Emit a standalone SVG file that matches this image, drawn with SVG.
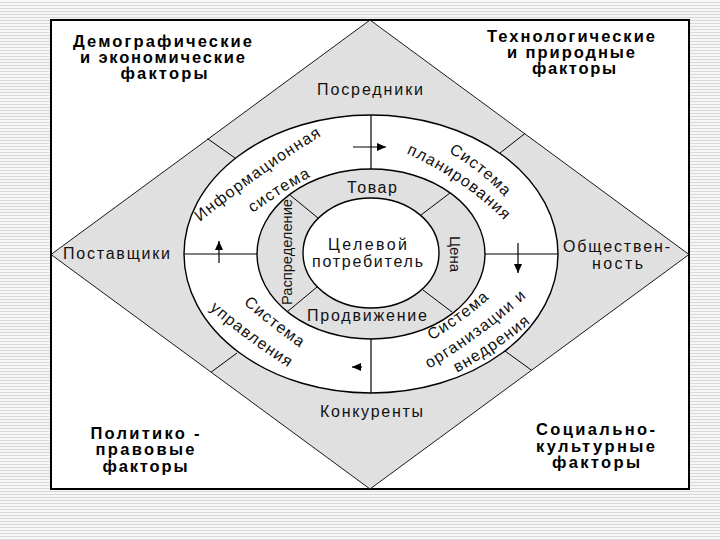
<svg xmlns="http://www.w3.org/2000/svg" width="720" height="540" viewBox="0 0 720 540">
<defs>
<style>
.lbl{font-family:"Liberation Sans",Arial,sans-serif;font-size:16px;fill:#111;}
.sm{font-size:15px;}
.fac{font-family:"Liberation Sans",Arial,sans-serif;font-size:16.5px;font-weight:bold;fill:#000;text-anchor:middle;}
.arc{font-family:"Liberation Sans",Arial,sans-serif;font-size:16px;fill:#111;letter-spacing:1.2px;}
.gray{fill:#e0e0e0;}
.thin{stroke:#000;stroke-width:1;fill:none;}
.conn{stroke:#000;stroke-width:1.2;fill:none;}
</style>
<pattern id="stripes" width="4" height="3" patternUnits="userSpaceOnUse">
<rect width="4" height="3" fill="#f7f7f7"/>
<rect y="2" width="4" height="1" fill="#d8d8d8"/>
</pattern>
<marker id="arr" markerUnits="userSpaceOnUse" markerWidth="9" markerHeight="8" refX="9" refY="4" orient="auto">
<path d="M0,0 L9,4 L0,8 z" fill="#000"/>
</marker>
<path id="p1" d="M181.5,236.5 L201,221 Q263,171.5 321,136 L342.3,123"/>
<path id="p2" d="M232.7,228.1 L252.8,213.2 Q280.3,192.7 311.8,176.2 L333.9,164.6"/>
<path id="p3" d="M425.5,139.2 L447.2,151.5 Q480.5,170.4 506.2,198.5 L523.1,216.9"/>
<path id="p4" d="M385.6,144.05 L408.4,154.4 Q461.6,178.6 503.4,219.4 L521.3,236.9"/>
<path id="p5" d="M224.2,287 L243.1,303.4 Q270.9,327.5 301.1,348.4 L321.7,362.6"/>
<path id="p6" d="M189.8,292 L208.7,308.4 Q246.8,341.6 289.7,368.4 L310.9,381.6"/>
<path id="p7" d="M408.1,353.9 L429.7,341.4 Q463,322.1 491.7,296.4 L510.3,279.7"/>
<path id="p8" d="M409.2,380.3 L430.7,367.6 Q481.8,337.4 525.7,297.6 L544.2,280.8"/>
<path id="p9" d="M436.4,384 L458.3,371.9 Q496.6,350.7 530.3,322.9 L549.6,307"/>
</defs>

<rect width="720" height="540" fill="url(#stripes)"/>
<rect x="51" y="20" width="638" height="469" fill="#fff" stroke="#000" stroke-width="2"/>

<g id="environment">
<polygon class="gray" points="370,20 689,254.5 370,489 51,254.5" stroke="#000" stroke-width="0.9"/>
<ellipse cx="371" cy="254" rx="187" ry="139" fill="#fff" stroke="#000" stroke-width="1.4"/>
<line class="thin" x1="207.6" y1="138.7" x2="235" y2="158"/>
<line class="thin" x1="525.2" y1="133.3" x2="500" y2="153"/>
<line class="thin" x1="211.3" y1="372" x2="237" y2="353"/>
<line class="thin" x1="531.4" y1="370.1" x2="505" y2="351"/>
</g>

<g id="marketing-mix">
<ellipse class="gray" cx="371" cy="254" rx="114" ry="85" stroke="#000" stroke-width="1.4"/>
<ellipse cx="371" cy="253" rx="68" ry="55" fill="#fff" stroke="#000" stroke-width="1.4"/>
<line class="thin" x1="290" y1="195" x2="318" y2="218"/>
<line class="thin" x1="450" y1="193" x2="421" y2="215"/>
<line class="thin" x1="287" y1="312" x2="317" y2="287"/>
<line class="thin" x1="423" y1="290" x2="452" y2="312"/>
</g>

<g id="connectors">
<line class="conn" x1="371" y1="115" x2="371" y2="169"/>
<line class="conn" x1="184" y1="254" x2="257" y2="254"/>
<line class="conn" x1="485" y1="254" x2="558" y2="254"/>
<line class="conn" x1="371" y1="339" x2="371" y2="393"/>
<line class="conn" x1="353" y1="147" x2="386" y2="147" marker-end="url(#arr)"/>
<line class="conn" x1="219" y1="263" x2="219" y2="241" marker-end="url(#arr)"/>
<line class="conn" x1="518" y1="243" x2="518" y2="273" marker-end="url(#arr)"/>
<line class="conn" x1="362" y1="367" x2="352" y2="367" marker-end="url(#arr)"/>
</g>

<g id="factor-demographic">
<text class="fac" x="162.5" y="47" textLength="179">Демографические</text>
<text class="fac" x="162.5" y="63" textLength="165">и экономические</text>
<text class="fac" x="164" y="79" textLength="87">факторы</text>
</g>
<g id="factor-technological">
<text class="fac" x="571" y="42" textLength="168">Технологические</text>
<text class="fac" x="571" y="58" textLength="128">и природные</text>
<text class="fac" x="574" y="74" textLength="84">факторы</text>
</g>
<g id="factor-political">
<text class="fac" x="145" y="439" textLength="109">Политико -</text>
<text class="fac" x="145" y="455" textLength="99">правовые</text>
<text class="fac" x="145" y="472" textLength="85">факторы</text>
</g>
<g id="factor-social">
<text class="fac" x="595.5" y="435" textLength="119">Социально-</text>
<text class="fac" x="595.5" y="452" textLength="119">культурные</text>
<text class="fac" x="596" y="468" textLength="88">факторы</text>
</g>

<g id="posredniki"><text class="lbl" x="370" y="95" text-anchor="middle" textLength="106">Посредники</text></g>
<g id="postavshchiki"><text class="lbl" x="116.5" y="259" text-anchor="middle" textLength="107">Поставщики</text></g>
<g id="obshchestvennost">
<text class="lbl" x="616.5" y="252" text-anchor="middle" textLength="107">Обществен-</text>
<text class="lbl" x="617.5" y="269" text-anchor="middle" textLength="51">ность</text>
</g>
<g id="konkurenty"><text class="lbl" x="371.5" y="417" text-anchor="middle" textLength="103">Конкуренты</text></g>

<g id="tovar"><text class="lbl" x="372" y="193" text-anchor="middle" textLength="50">Товар</text></g>
<g id="prodvizhenie"><text class="lbl" x="367" y="321" text-anchor="middle" textLength="120">Продвижение</text></g>
<g id="tsena"><text class="lbl sm" transform="translate(450,254) rotate(90)" text-anchor="middle">Цена</text></g>
<g id="raspredelenie"><text class="lbl sm" transform="translate(292,252) rotate(-90)" text-anchor="middle" textLength="106" lengthAdjust="spacingAndGlyphs">Распределение</text></g>
<g id="consumer">
<text class="lbl" x="367.5" y="250" text-anchor="middle" textLength="79">Целевой</text>
<text class="lbl" x="367.5" y="267" text-anchor="middle" textLength="111">потребитель</text>
</g>

<g id="info-system">
<text class="arc"><textPath href="#p1" startOffset="50%" text-anchor="middle">Информационная</textPath></text>
<text class="arc"><textPath href="#p2" startOffset="50%" text-anchor="middle">система</textPath></text>
</g>
<g id="planning-system">
<text class="arc"><textPath href="#p3" startOffset="50%" text-anchor="middle">Система</textPath></text>
<text class="arc"><textPath href="#p4" startOffset="50%" text-anchor="middle">планирования</textPath></text>
</g>
<g id="control-system">
<text class="arc"><textPath href="#p5" startOffset="50%" text-anchor="middle">Система</textPath></text>
<text class="arc"><textPath href="#p6" startOffset="50%" text-anchor="middle">управления</textPath></text>
</g>
<g id="organization-system">
<text class="arc"><textPath href="#p7" startOffset="50%" text-anchor="middle">Система</textPath></text>
<text class="arc"><textPath href="#p8" startOffset="50%" text-anchor="middle">организации и</textPath></text>
<text class="arc"><textPath href="#p9" startOffset="50%" text-anchor="middle">внедрения</textPath></text>
</g>
</svg>
